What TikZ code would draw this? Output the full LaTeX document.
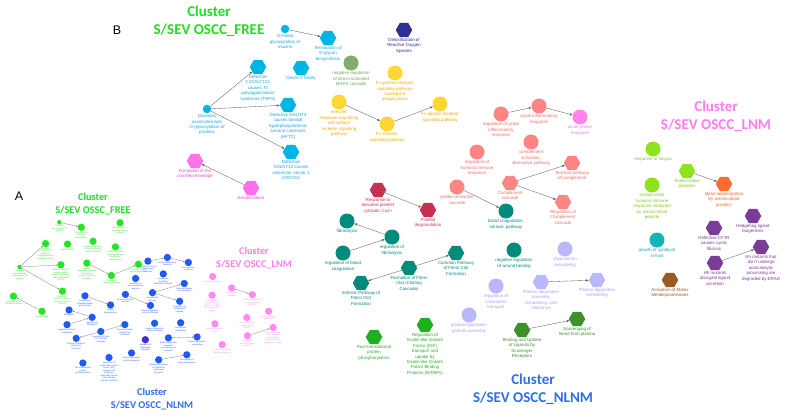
\documentclass[tikz,border=0pt]{standalone}
\usepackage{fontspec}
\setmainfont{Liberation Sans}
\newfontfamily\titlefont{Carlito}
\usetikzlibrary{shapes.geometric,arrows.meta}

\definecolor{cyanN}{HTML}{00B4E4}\definecolor{cyanT}{HTML}{1BA3DC}
\definecolor{yel}{HTML}{FFD633}\definecolor{yelT}{HTML}{F2A900}
\definecolor{detox}{HTML}{2E3192}
\definecolor{mapk}{HTML}{7FAE6F}\definecolor{mapkT}{HTML}{6AA55A}
\definecolor{pinkK}{HTML}{FF70EA}\definecolor{pinkKT}{HTML}{E845D8}
\definecolor{salm}{HTML}{FF8585}\definecolor{salmT}{HTML}{F46A6A}
\definecolor{pinkA}{HTML}{FF85EC}\definecolor{pinkAT}{HTML}{F47AE6}
\definecolor{crim}{HTML}{C8304F}\definecolor{crimT}{HTML}{CC3552}
\definecolor{tealN}{HTML}{008B7C}\definecolor{tealT}{HTML}{00897B}
\definecolor{lav}{HTML}{B8B8FA}\definecolor{lavT}{HTML}{A2A2F2}
\definecolor{dgrn}{HTML}{3F8F2B}
\definecolor{grn}{HTML}{1EB11E}\definecolor{grnT}{HTML}{28A828}
\definecolor{lime}{HTML}{8EE21E}\definecolor{limeT}{HTML}{80C820}
\definecolor{ora}{HTML}{FF6B2F}\definecolor{oraT}{HTML}{FF5E20}
\definecolor{purp}{HTML}{7B3B99}
\definecolor{tq}{HTML}{13B6B8}\definecolor{tqT}{HTML}{12A7B8}
\definecolor{brn}{HTML}{9C5A27}
\definecolor{tFREE}{HTML}{22DD22}\definecolor{tLNM}{HTML}{FF7DF0}\definecolor{tNLNM}{HTML}{2F6FE8}
\definecolor{colF}{HTML}{22E622}\definecolor{colN}{HTML}{1F5AF2}
\definecolor{colL}{HTML}{FF8AF2}\definecolor{colI}{HTML}{3A2FD0}
\definecolor{edgeC}{HTML}{606060}

% per-cluster transforms for panel A
\def\sxF{0.51}\def\oxF{-86}\def\syF{0.56}\def\oyF{206}
\def\sxN{0.512}\def\oxN{-108.6}\def\syN{0.457}\def\oyN{209}
\def\sxI{0.512}\def\oxI{-108.6}\def\syI{0.457}\def\oyI{209}
\def\sxL{0.56}\def\oxL{-153}\def\syL{0.52}\def\oyL{199}

\newif\ifpanelA

\newcommand{\N}[8]{%
 \ifpanelA
  \node[shA#3, fill=col#2] (a#1) at ({\csname sx#2\endcsname*(#4)+\csname ox#2\endcsname},{\csname sy#2\endcsname*(#5)+\csname oy#2\endcsname}) {};
  \node[lblA, text=col#2, anchor=north] (a#1l) at ([yshift=-0.4pt]a#1.south) {#8};
 \else
  \node[sh#3, fill=#6] (b#1) at (#4,#5) {};
  \node[lblB, text=#7, anchor=north] (b#1l) at ([yshift=-0.8pt]b#1.south) {#8};
 \fi}
\newcommand{\E}[2]{%
 \ifpanelA \draw[edgeA] (a#1) -- (a#2);
 \else \draw[edgeB] (b#1) -- (b#2); \fi}

\newcommand{\network}{%
% ---------- FREE ----------
\N{olink}{F}{S}{285}{29}{cyanN}{cyanT}{O-linked\\glycosylation of\\mucins}
\N{term}{F}{H}{328}{38}{cyanN}{cyanT}{Termination of\\O-glycan\\biosynthesis}
\N{detox}{F}{H}{404}{30}{detox}{detox}{Detoxification of\\Reactive Oxygen\\Species}
\N{dectin}{F}{H}{301}{68}{cyanN}{cyanT}{Dectin-2 family}
\N{c1galt}{F}{H}{258}{67}{cyanN}{cyanT}{Defective\\C1GALT1C1\\causes Tn\\polyagglutination\\syndrome (TNPS)}
\N{mapk}{F}{C}{351}{63}{mapk}{mapkT}{negative regulation\\of stress-activated\\MAPK cascade}
\N{fcg}{F}{C}{395}{73}{yel}{yelT}{Fc-gamma receptor\\signaling pathway\\involved in\\phagocytosis}
\N{dis}{F}{S}{207}{109}{cyanN}{cyanT}{Diseases\\associated with\\O-glycosylation of\\proteins}
\N{galntt}{F}{H}{288}{105}{cyanN}{cyanT}{Defective GALNT3\\causes familial\\hyperphosphatemic\\tumoral calcinosis\\(HFTC)}
\N{immune}{F}{C}{339}{102}{yel}{yelT}{immune\\response-regulating\\cell surface\\receptor signaling\\pathway}
\N{fcr}{F}{C}{387}{124}{yel}{yelT}{Fc receptor\\signaling pathway}
\N{fce}{F}{C}{440}{104}{yel}{yelT}{Fc-epsilon receptor\\signaling pathway}
\N{galntw}{F}{H}{291}{152}{cyanN}{cyanT}{Defective\\GALNT12 causes\\colorectal cancer 1\\(CRCS1)}
\N{corn}{F}{H}{195}{161}{pinkK}{pinkKT}{Formation of the\\cornified envelope}
\N{kera}{F}{H}{251}{188}{pinkK}{pinkKT}{Keratinization}
\E{olink}{term}\E{dis}{c1galt}\E{dis}{galntt}\E{dis}{galntw}
\E{immune}{fcr}\E{fcr}{fce}\E{kera}{corn}
% ---------- NLNM ----------
\N{regacute}{N}{C}{501}{114}{salm}{salmT}{regulation of acute\\inflammatory\\response}
\N{acute}{N}{C}{539}{106}{salm}{salmT}{acute inflammatory\\response}
\N{acutep}{N}{C}{580}{117}{pinkA}{pinkAT}{acute-phase\\response}
\N{compalt}{N}{C}{531}{142}{salm}{salmT}{complement\\activation,\\alternative pathway}
\N{reghum}{N}{C}{477}{152}{salm}{salmT}{regulation of\\humoral immune\\response}
\N{termc}{N}{H}{572}{163}{salm}{salmT}{Terminal pathway\\of complement}
\N{compc}{N}{H}{510}{183}{salm}{salmT}{Complement\\cascade}
\N{regcomp}{N}{H}{563}{202}{salm}{salmT}{Regulation of\\Complement\\cascade}
\N{protact}{N}{C}{457}{187}{salm}{salmT}{protein activation\\cascade}
\N{bcint}{N}{C}{506}{211}{tealN}{tealT}{blood coagulation,\\intrinsic pathway}
\N{respca}{N}{H}{378}{190}{crim}{crimT}{Response to\\elevated platelet\\cytosolic Ca2+}
\N{plat}{N}{H}{428}{210}{crim}{crimT}{Platelet\\degranulation}
\N{fibr}{N}{C}{347}{221}{tealN}{tealT}{fibrinolysis}
\N{regfibr}{N}{C}{392}{237}{tealN}{tealT}{regulation of\\fibrinolysis}
\N{regbc}{N}{C}{343}{253}{tealN}{tealT}{regulation of blood\\coagulation}
\N{fclot}{N}{H}{409}{268}{tealN}{tealT}{Formation of Fibrin\\Clot (Clotting\\Cascade)}
\N{common}{N}{H}{456}{253}{tealN}{tealT}{Common Pathway\\of Fibrin Clot\\Formation}
\N{intr}{N}{H}{361}{283}{tealN}{tealT}{Intrinsic Pathway of\\Fibrin Clot\\Formation}
\N{wound}{N}{C}{514}{250}{tealN}{tealT}{negative regulation\\of wound healing}
\N{chylo}{N}{C}{565}{249}{lav}{lavT}{chylomicron\\remodeling}
\N{regchol}{I}{C}{496}{286}{lav}{lavT}{regulation of\\cholesterol\\transport}
\N{plasm}{N}{H}{541}{282}{lav}{lavT}{Plasma lipoprotein\\assembly,\\remodeling, and\\clearance}
\N{plrem}{N}{H}{597}{280}{lav}{lavT}{Plasma lipoprotein\\remodeling}
\N{plpart}{N}{C}{469}{315}{lav}{lavT}{plasma lipoprotein\\particle assembly}
\N{scav}{N}{H}{577}{319}{dgrn}{dgrn}{Scavenging of\\heme from plasma}
\N{bind}{N}{H}{522}{330}{dgrn}{dgrn}{Binding and Uptake\\of Ligands by\\Scavenger\\Receptors}
\N{post}{N}{H}{374}{337}{grn}{grnT}{Post-translational\\protein\\phosphorylation}
\N{igf}{N}{H}{425}{325}{grn}{grnT}{Regulation of\\Insulin-like Growth\\Factor (IGF)\\transport and\\uptake by\\Insulin-like Growth\\Factor Binding\\Proteins (IGFBPs)}
\E{regacute}{acute}\E{acute}{acutep}\E{compc}{termc}\E{compc}{regcomp}
\E{protact}{bcint}\E{respca}{plat}\E{regfibr}{fibr}\E{regbc}{regfibr}
\E{fclot}{common}\E{fclot}{intr}\E{plasm}{plrem}\E{bind}{scav}
% ---------- LNM ----------
\N{fungus}{L}{C}{653}{149}{lime}{limeT}{response to fungus}
\N{amp}{L}{H}{687}{171}{lime}{limeT}{Antimicrobial\\peptides}
\N{metal}{L}{H}{724}{184}{ora}{oraT}{Metal sequestration\\by antimicrobial\\proteins}
\N{amhum}{L}{C}{652}{185}{lime}{limeT}{antimicrobial\\humoral immune\\response mediated\\by antimicrobial\\peptide}
\N{hedge}{L}{H}{753}{216}{purp}{purp}{Hedgehog ligand\\biogenesis}
\N{cftr}{L}{H}{714}{228}{purp}{purp}{Defective CFTR\\causes cystic\\fibrosis}
\N{symb}{L}{C}{657}{240}{tq}{tqT}{growth of symbiont\\in host}
\N{hhab}{L}{H}{715}{263}{purp}{purp}{Hh mutants\\abrogate ligand\\secretion}
\N{hherad}{L}{H}{761}{247}{purp}{purp}{Hh mutants that\\don't undergo\\autocatalytic\\processing are\\degraded by ERAD}
\N{mmp}{L}{H}{670}{280}{brn}{brn}{Activation of Matrix\\Metalloproteinases}
\E{amp}{metal}\E{hhab}{hherad}
}

\begin{document}
\begin{tikzpicture}[x=1pt,y=-1pt,
  shH/.style={regular polygon, regular polygon sides=6, minimum size=16.5pt, inner sep=0pt, draw=none},
  shC/.style={circle, minimum size=15pt, inner sep=0pt, draw=none},
  shS/.style={circle, minimum size=8.5pt, inner sep=0pt, draw=none},
  shAH/.style={circle, minimum size=7.3pt, inner sep=0pt, draw=none},
  shAC/.style={circle, minimum size=7.3pt, inner sep=0pt, draw=none},
  shAS/.style={circle, minimum size=4.5pt, inner sep=0pt, draw=none},
  lblB/.style={font=\fontsize{4.4}{5.4}\selectfont, align=center, inner sep=0pt},
  lblA/.style={font=\fontsize{2.1}{2.5}\selectfont, align=center, inner sep=0pt},
  edgeB/.style={draw=edgeC, line width=0.35pt, -{Stealth[length=3pt,width=2.4pt]}},
  edgeA/.style={draw=edgeC, line width=0.2pt, -{Stealth[length=1.4pt,width=1.1pt]}},
  titleB/.style={font=\titlefont\bfseries\fontsize{15}{18}\selectfont, align=center, inner sep=0pt},
  titleA/.style={font=\titlefont\bfseries\fontsize{10.3}{13}\selectfont, align=center, inner sep=0pt},
  panellbl/.style={font=\fontsize{12.5}{14}\selectfont, inner sep=0pt}]
\useasboundingbox (0,0) rectangle (789,417);
\fill[white] (0,0) rectangle (789,417);

% panel B
\panelAfalse
\network
\node[titleB, text=tFREE] (tF) at (209,21) {Cluster\\S/SEV OSCC\_FREE};
\node[titleB, text=tLNM] (tL) at (716,116) {Cluster\\S/SEV OSCC\_LNM};
\node[titleB, text=tNLNM] (tN) at (533,389) {Cluster\\S/SEV OSCC\_NLNM};
\node[panellbl] (labB) at (117,30) {B};

% panel A
\panelAtrue
\network
\node[titleA, text=tFREE] (aF) at (93,204.5) {Cluster\\S/SEV OSSC\_FREE};
\node[titleA, text=tLNM] (aL) at (254,258) {Cluster\\S/SEV OSCC\_LNM};
\node[titleA, text=tNLNM] (aN) at (152,399.5) {Cluster\\S/SEV OSCC\_NLNM};
\node[panellbl] (labA) at (19,196) {A};
\end{tikzpicture}
\end{document}
